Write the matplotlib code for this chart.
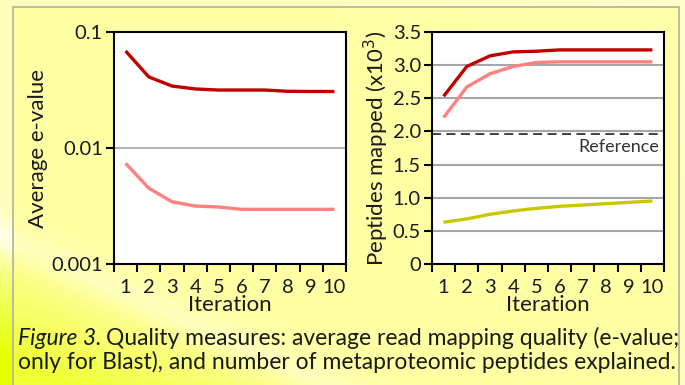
import numpy as np
import matplotlib
matplotlib.use("Agg")
import matplotlib.pyplot as plt
from matplotlib.patches import Rectangle

plt.rcParams['font.family'] = ['Lato', 'DejaVu Sans']

# data
iterations = [1, 2, 3, 4, 5, 6, 7, 8, 9, 10]
evalue_dark = [0.0686, 0.041, 0.0342, 0.0323, 0.0316, 0.0316, 0.0316, 0.0308, 0.0307, 0.0307]
evalue_pink = [0.00738, 0.0045, 0.00344, 0.00316, 0.0031, 0.00296, 0.00296, 0.00296, 0.00296, 0.00296]
pep_dark = [2.53, 2.98, 3.14, 3.20, 3.21, 3.23, 3.23, 3.23, 3.23, 3.23]
pep_pink = [2.21, 2.67, 2.87, 2.98, 3.04, 3.05, 3.05, 3.05, 3.05, 3.05]
pep_green = [0.63, 0.68, 0.75, 0.80, 0.84, 0.87, 0.89, 0.91, 0.93, 0.95]
reference = 1.96
pep_ticks = [0, 0.5, 1.0, 1.5, 2.0, 2.5, 3.0, 3.5]
pep_ticklabels = ["0", "0.5", "1.0", "1.5", "2.0", "2.5", "3.0", "3.5"]

DARK = "#C00000"
PINK = "#FF8080"
GREEN = "#C8C800"
TXT = "#1a1a1a"

W, H = 685, 385
fig = plt.figure(figsize=(W / 100, H / 100), dpi=100)

# background gradient
bg = fig.add_axes([0, 0, 1, 1], zorder=-10)
yy, xx = np.mgrid[0:H, 0:W].astype(float)
d = yy - (235 + 0.45 * xx)
pale = np.array([1.0, 1.0, 0.74])
lime = np.array([0.9, 1.0, 0.0])
white = np.array([1.0, 1.0, 0.93])
t = np.clip(d / 120.0, 0, 1)[..., None]
img = pale * (1 - t) + lime * t
band = np.exp(-(d / 18.0) ** 2)[..., None]
img = img * (1 - 0.8 * band) + white * 0.8 * band
top = np.clip((200 - yy) / 200.0, 0, 1)[..., None] * np.clip((xx - 300) / 385, 0, 1)[..., None]
img = img * (1 - 0.4 * top) + np.array([1.0, 1.0, 0.85]) * 0.4 * top
bg.imshow(img, extent=[0, W, H, 0], aspect="auto")
bg.set_xlim(0, W)
bg.set_ylim(H, 0)
bg.axis("off")
bg.add_patch(Rectangle((13, 7), 666, 390, facecolor=(1, 1, 0.5, 0.4),
                       edgecolor="#b0b0a0", linewidth=1.2))

def style(ax):
    for s in ax.spines.values():
        s.set_color("black")
        s.set_linewidth(1.5)
    ax.set_facecolor("white")
    ax.set_xlim(0, 10)
    ax.set_xticks(range(11))
    ax.set_xticklabels([])
    ax.set_xticks([i - 0.5 for i in iterations], minor=True)
    ax.set_xticklabels([str(i) for i in iterations], minor=True)
    ax.tick_params(axis="x", which="major", direction="out", length=6, width=1.5, color="black")
    ax.tick_params(axis="x", which="minor", length=0, pad=11, labelsize=14.5, labelcolor=TXT)
    ax.tick_params(axis="y", which="major", direction="out", length=6, width=1.5,
                   labelsize=14.5, labelcolor=TXT, pad=2)
    ax.set_xlabel("Iteration", fontsize=16, color=TXT, labelpad=-1)

xpos = [i - 0.5 for i in iterations]

# left panel
ax1 = fig.add_axes([114 / W, 1 - 264 / H, 232 / W, 232 / H])
ax1.plot(xpos, evalue_dark, color=DARK, lw=2.4, solid_capstyle="butt")
ax1.plot(xpos, evalue_pink, color=PINK, lw=2.4, solid_capstyle="butt")
ax1.set_yscale("log")
ax1.set_ylim(0.001, 0.1)
ax1.set_yticks([0.001, 0.01, 0.1])
ax1.set_yticklabels(["0.001", "0.01", "0.1"])
ax1.minorticks_off()
style(ax1)
ax1.axhline(0.01, color="#a6a6a6", lw=1.2, zorder=0)
ax1.set_ylabel("Average e-value", fontsize=16, color=TXT, labelpad=2)

# right panel
ax2 = fig.add_axes([432 / W, 1 - 264 / H, 232 / W, 232 / H])
for v in pep_ticks[1:-1]:
    ax2.axhline(v, color="#a6a6a6", lw=1.5, zorder=0)
ax2.axhline(reference, color="#333333", lw=1.3, ls=(0, (5, 3)), zorder=1)
ax2.text(9.8, reference - 0.08, "Reference", ha="right", va="top", fontsize=13, color="#333333")
ax2.plot(xpos, pep_dark, color=DARK, lw=2.4, solid_capstyle="butt")
ax2.plot(xpos, pep_pink, color=PINK, lw=2.4, solid_capstyle="butt")
ax2.plot(xpos, pep_green, color=GREEN, lw=2.4, solid_capstyle="butt")
ax2.set_ylim(0, 3.5)
ax2.set_yticks(pep_ticks)
ax2.set_yticklabels(pep_ticklabels)
style(ax2)
ax2.set_ylabel("Peptides mapped (x10$^3$)", fontsize=16, color=TXT, labelpad=1)

# caption
fig.canvas.draw()
r = fig.canvas.get_renderer()
t1 = fig.text(18 / W, 1 - 345 / H, "Figure 3.", style="italic", fontsize=16.5, color=TXT, va="baseline")
bb = t1.get_window_extent(renderer=r)
fig.text(bb.x1 / W + 5 / W, 1 - 345 / H,
         "Quality measures: average read mapping quality (e-value;",
         fontsize=16.5, color=TXT, va="baseline")
fig.text(18 / W, 1 - 369 / H,
         "only for Blast), and number of metaproteomic peptides explained.",
         fontsize=16.5, color=TXT, va="baseline")

fig.savefig("out.png", dpi=100)
